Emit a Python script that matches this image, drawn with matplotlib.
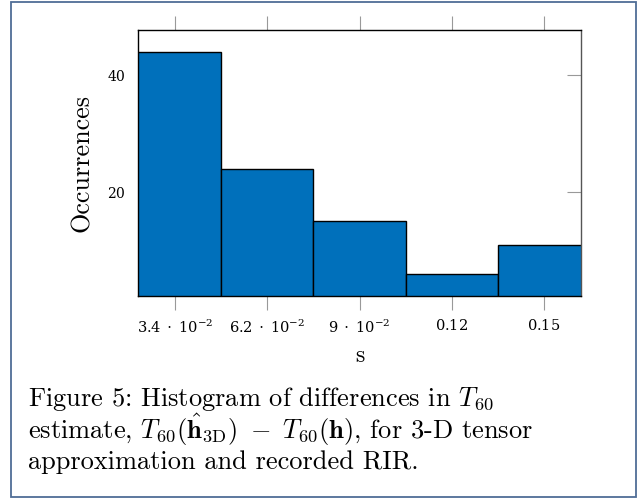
import matplotlib
matplotlib.use("Agg")
import matplotlib.pyplot as plt
from matplotlib.patches import Rectangle

plt.rcParams['font.family'] = 'serif'
plt.rcParams['font.serif'] = ['cmr10']
plt.rcParams['mathtext.fontset'] = 'cm'
plt.rcParams['axes.unicode_minus'] = False
plt.rcParams['axes.formatter.use_mathtext'] = True

# Data
bin_centers = [0.034, 0.062, 0.090, 0.118, 0.146]
counts = [44, 24, 15, 6, 11]
bin_width = 0.028
xtick_labels = [r'$3.4\;\cdot\;10^{-2}$', r'$6.2\;\cdot\;10^{-2}$', r'$9\;\cdot\;10^{-2}$', r'$0.12$', r'$0.15$']
yticks = [20, 40]
ytick_labels = [r'$20$', r'$40$']

fig = plt.figure(figsize=(6.43, 5.0), dpi=100)
ax = fig.add_axes([138/643, 1-296/500, (581-138)/643, (296-30)/500])

ax.bar(bin_centers, counts, width=bin_width, color='#0070BB', edgecolor='black', linewidth=1.0, zorder=2)
ax.set_xlim(0.0227, 0.1573)
ax.set_ylim(2.2, 47.7)

ax.set_xticks(bin_centers)
ax.set_xticklabels(xtick_labels, fontsize=10.5)
ax.set_yticks(yticks)
ax.set_yticklabels(ytick_labels, fontsize=10)
for lab in ax.get_xticklabels() + ax.get_yticklabels():
    lab.set_math_fontfamily('dejavuserif')

ax.tick_params(axis='x', which='both', direction='out', top=True, bottom=True,
               length=10, width=0.8, color='#999999', pad=6)
ax.tick_params(axis='y', which='both', direction='in', left=False, right=True,
               labelleft=True, labelright=False, length=10, width=0.8, color='#999999', pad=9)

for s in ax.spines.values():
    s.set_linewidth(1.0)
    s.set_color('black')
ax.spines['right'].set_color('#555555')

ax.set_ylabel('Occurrences', fontsize=18.8, labelpad=9)
ax.set_xlabel('s', fontsize=17, labelpad=7)

# Border box
fig.patches.append(Rectangle((11/643, 3/500), 625/643, 495/500, transform=fig.transFigure,
                             fill=False, edgecolor='#4F6D96', linewidth=1.3))

cap_lines = [
    r'Figure 5: Histogram of differences in $T_{60}$',
    r'estimate, $T_{60}(\hat{\mathbf{h}}_{\mathrm{3D}})\ -\ T_{60}(\mathbf{h})$, for 3-D tensor',
    r'approximation and recorded RIR.',
]
cap_baselines = [406, 439, 469]
for line, yb in zip(cap_lines, cap_baselines):
    fig.text(28/643, 1 - yb/500, line, fontsize=19, va='baseline', ha='left')

fig.savefig('out.png', dpi=100)
